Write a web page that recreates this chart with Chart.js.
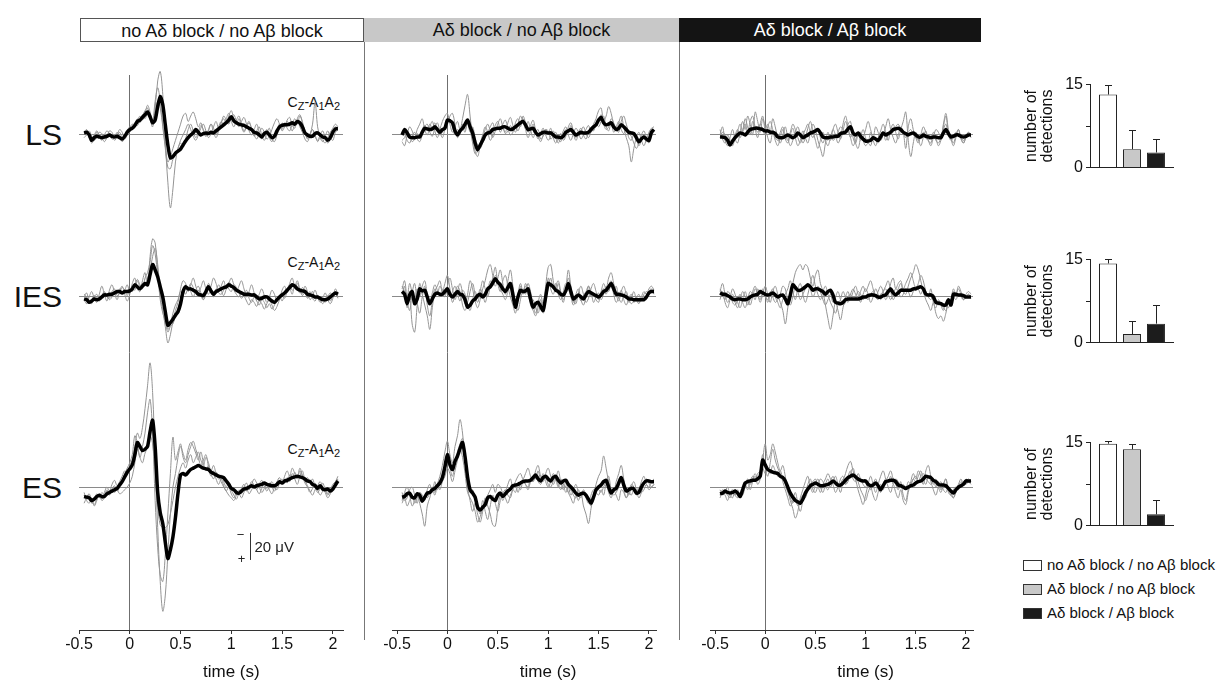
<!DOCTYPE html>
<html>
<head>
<meta charset="utf-8">
<script src="https://cdn.jsdelivr.net/npm/chart.js@4.4.1/dist/chart.umd.min.js"></script>
<style>
  body { margin: 0; background: #fff; font-family: "Liberation Sans", Arial, sans-serif; color: #111; }
  #page { position: relative; width: 1224px; height: 693px; overflow: hidden; }
  canvas { position: absolute; }
  .hdr { position: absolute; top: 18px; height: 24px; line-height: 24px; font-size: 18px; text-align: center; box-sizing: border-box; }
  .sep { position: absolute; top: 42px; width: 1px; height: 598px; background: #777; }
  .row { position: absolute; font-size: 30px; transform: translate(-100%, -50%); }
  .ref { position: absolute; font-size: 14px; transform: translate(-100%, -50%); white-space: nowrap; }
  .ref sub { font-size: 11px; vertical-align: -3px; }
  .leg { position: absolute; left: 1023px; font-size: 15px; white-space: nowrap; }
  .leg span { display: inline-block; width: 19px; height: 11px; border: 1px solid #333; box-sizing: border-box; margin-right: 5px; vertical-align: -1px; }
</style>
</head>
<body>
<div id="page">
  <div class="hdr" style="left:80px;width:284px;border:1px solid #555;background:#fff;">no Aδ block / no Aβ block</div>
  <div class="hdr" style="left:364px;width:315px;background:#c8c8c8;">Aδ block / no Aβ block</div>
  <div class="hdr" style="left:679px;width:302px;background:#141414;color:#fff;">Aδ block / Aβ block</div>
  <div class="sep" style="left:364px;"></div>
  <div class="sep" style="left:679px;"></div>

  <div class="row" style="left:62px;top:135px;">LS</div>
  <div class="row" style="left:62px;top:297px;">IES</div>
  <div class="row" style="left:62px;top:488px;">ES</div>

  <div class="ref" style="left:340px;top:103px;">C<sub>Z</sub>-A<sub>1</sub>A<sub>2</sub></div>
  <div class="ref" style="left:340px;top:263px;">C<sub>Z</sub>-A<sub>1</sub>A<sub>2</sub></div>
  <div class="ref" style="left:340px;top:450px;">C<sub>Z</sub>-A<sub>1</sub>A<sub>2</sub></div>

  <canvas id="colNoBlock" width="294" height="643" style="left:64px;top:50px;"></canvas>
  <canvas id="colAdBlock" width="294" height="643" style="left:377px;top:50px;"></canvas>
  <canvas id="colAdAbBlock" width="293" height="643" style="left:695px;top:50px;"></canvas>

  <canvas id="detLS" width="173" height="108" style="left:1010px;top:72px;"></canvas>
  <canvas id="detIES" width="173" height="108" style="left:1010px;top:247px;"></canvas>
  <canvas id="detES" width="173" height="108" style="left:1010px;top:430px;"></canvas>

  <div class="leg" style="top:556px;"><span style="background:#fff;"></span>no Aδ block / no Aβ block</div>
  <div class="leg" style="top:580px;"><span style="background:#c8c8c8;"></span>Aδ block / no Aβ block</div>
  <div class="leg" style="top:604px;"><span style="background:#1c1c1c;"></span>Aδ block / Aβ block</div>
</div>
<script>
// sample times (s)
const timeS = [-0.45,-0.425,-0.4,-0.375,-0.35,-0.325,-0.3,-0.275,-0.25,-0.225,-0.2,-0.175,-0.15,-0.125,-0.1,-0.075,-0.05,-0.025,0,
  0.025,0.05,0.075,0.1,0.125,0.15,0.175,0.2,0.225,0.25,0.275,0.3,0.325,0.35,0.375,0.4,0.425,0.45,0.475,0.5,
  0.525,0.55,0.575,0.6,0.625,0.65,0.675,0.7,0.725,0.75,0.775,0.8,0.825,0.85,0.875,0.9,0.925,0.95,0.975,1,
  1.025,1.05,1.075,1.1,1.125,1.15,1.175,1.2,1.225,1.25,1.275,1.3,1.325,1.35,1.375,1.4,1.425,1.45,1.475,1.5,
  1.525,1.55,1.575,1.6,1.625,1.65,1.675,1.7,1.725,1.75,1.775,1.8,1.825,1.85,1.875,1.9,1.925,1.95,1.975,2,
  2.025,2.05];
const timeTicks = [-0.5, 0, 0.5, 1, 1.5, 2];
const timeTickLabels = ['-0.5', '0', '0.5', '1', '1.5', '2'];

// amplitudes in µV (negative plotted up)
// --- no Aδ block / no Aβ block ---
const lsNoBlockMean = [-1.5,-2,0,4,2,1,1.5,2,1.5,1,0,1,1.5,1,2,3,1,-2,-4,
  -5,-7,-10,-11,-13,-15,-17,-13.5,-9,-11,-21,-28.5,-22.5,-7.5,7.5,17,16,13.5,12,10.5,
  7.5,4.5,2,0,-1.5,-4,-2,0,-1,-1.5,-1,-2,-1.5,-3,-4.5,-6,-7.5,-9,-11,-13.5,
  -10.5,-9,-8,-7.5,-7,-6,-5,-4,-2,-1.5,0,1.5,-1,-2,0,2,1,-3,-6,-7,
  -7.5,-7.5,-8,-9,-8,-10,-9,-6,-1.5,0,1,1,-1,-1.5,0,1.5,2,4,2,-2,
  -4.5,-4.5];
const lsNoBlockT1 = [0,-3,2,6,3,-2,1,4,0,-3,-1,3,2,-2,1,5,2,-3,-6,
  -4,-8,-12,-9,-14,-18,-20,-12,-6,-20,-40,-47,-30,5,35,54,40,20,10,6,
  8,3,-4,-8,-3,2,-2,-7,-4,1,-3,-8,-5,0,-6,-10,-7,-12,-16,-10,
  -6,-11,-14,-8,-3,-7,-10,-4,1,-3,-6,0,4,-1,-5,3,5,0,-5,-9,
  -6,-11,-13,-7,-5,-12,-15,-9,-2,3,0,-4,1,4,0,-3,2,6,3,-3,
  -6,-5];
const lsNoBlockT2 = [2,0,-3,1,4,2,-2,-1,3,1,-3,-2,2,0,-4,-2,3,0,-5,
  -8,-6,-10,-14,-11,-16,-22,-17,-10,-25,-35,-25,-8,8,20,16,10,4,-2,-8,
  -14,-16,-10,-14,-17,-12,-6,-9,-3,1,-4,-8,-2,2,-3,-9,-12,-8,-14,-18,
  -12,-8,-12,-6,-2,-6,-9,-5,0,3,-1,-5,-2,3,1,-4,-9,-12,-8,-4,
  -9,-5,-3,-8,-12,-8,-14,-10,-2,2,-1,-4,0,5,2,4,6,2,-2,-5,
  -8,-6];
const lsNoBlockT3 = [-2,-4,0,3,0,-3,0,2,5,2,-1,0,4,1,-2,2,0,-4,-2,
  -6,-9,-7,-11,-15,-12,-16,-14,-10,-16,-25,-20,-6,10,24,25,18,15,10,4,
  0,-4,-8,-4,1,4,0,-5,-8,-3,2,-1,-6,-10,-5,-9,-14,-11,-8,-13,
  -15,-10,-6,-10,-13,-8,-3,0,-4,-8,-2,3,0,-4,2,5,1,-4,-8,-3,
  -6,-10,-7,-3,-8,-11,-6,-2,3,5,0,-8,-24,-6,2,5,1,-3,2,4,
  -2,-4];

const iesNoBlockMean = [1.5,2,4,3,1.5,2,1.5,0,-1.5,-1.5,-2,-2,-3,-4,-4,-3,-4,-4,-4.5,
  -6,-9,-7.5,-6,-8,-10,-9,-16.5,-24,-20,-15,-7.5,0,11,21,19,16.5,13.5,11,5,
  -4,-7.5,-6,-6,-5,-4,-2,-1.5,-1,-4,-7.5,-4.5,-2,-4,-5,-6,-7,-7.5,-9,-8,
  -7,-5,-4,-3,-2,-2,-2,-1.5,-1.5,0,1.5,1,0,0,1.5,3,4,2,0,-1.5,
  -3,-5,-7,-9,-8,-6,-5,-4.5,-4,-2,-1.5,-1,0,0,1,2,2,1.5,0,-1.5,
  -3,-2];
const iesNoBlockT1 = [2,5,0,-4,1,4,-2,-8,-2,3,-5,-9,-3,2,-4,-8,-2,3,-2,
  -10,-14,-6,-4,-12,-18,-8,-30,-43,-40,-20,-2,10,22,34,28,18,10,4,-6,
  -12,-10,-4,-9,-14,-8,-3,-7,-12,-6,-2,-8,-14,-10,-4,-8,-12,-6,-10,-14,
  -9,-4,-8,-12,-6,0,-4,-9,-3,2,-2,-6,-1,4,0,-5,-2,3,1,-5,
  -8,-3,-10,-14,-8,-12,-6,-2,-8,-4,2,-1,-5,0,4,1,-3,2,5,1,
  -6,-2];
const iesNoBlockT2 = [0,-3,3,5,0,-2,2,-1,-4,0,1,-4,-6,-1,-3,-7,-5,-1,-6,
  -4,-9,-13,-9,-6,-14,-18,-26,-38,-32,-16,2,12,18,26,22,20,14,8,2,
  -6,-2,-7,-4,0,-5,-8,-3,2,-2,-10,-6,0,-4,-9,-5,-1,-6,-11,-9,
  -5,-2,0,-3,-1,3,6,2,4,7,3,5,9,5,2,6,10,7,2,-1,
  1,-4,-6,-2,-9,-6,-3,-7,-4,0,-4,1,3,-1,2,5,2,-1,3,-1,
  -4,1];
const iesNoBlockT3 = [-2,0,4,2,-1,1,3,0,-3,-1,2,0,-4,-2,-6,-3,-5,-9,-4,
  -7,-5,-12,-8,-10,-8,-14,-20,-30,-36,-24,-6,4,14,24,20,12,6,2,-4,
  -2,-9,-6,-10,-7,-3,-5,-1,2,-4,-8,-3,-1,-6,-3,-2,-5,-9,-6,-4,
  -9,-7,-3,1,-2,-5,1,4,0,3,6,2,4,8,5,9,6,2,-1,3,
  -2,-6,-9,-5,-7,-10,-5,-1,-3,1,-2,-4,1,-1,3,1,4,0,-3,-1,
  -3,0];

const esNoBlockMean = [7,7.5,8,10,9,7,6,7,7,5,4,3,2,1,-1.5,-4,-7.5,-11,-13.5,
  -16.5,-24,-33,-30,-27,-28,-30,-41,-49.5,-30,4,19,27,41,53,46.5,37,22.5,4.5,-9,
  -10,-9,-11,-13,-14,-15,-16,-15,-14,-13.5,-13,-11,-10,-9,-8,-7.5,-7,-4.5,-2,1,
  2,4,4.5,3,1.5,1,0,-1,0,-1,-1.5,-2,-3,-2,-1.5,-1,-1,-2,-4,-3,
  -4.5,-5,-6,-7,-7.5,-8,-7.5,-7,-6,-4.5,-4,-2,-1,1,-1,1.5,2,1.5,3,1.5,
  -1.5,-4.5];
const esNoBlockT1 = [6,10,12,8,14,10,5,9,4,0,3,-2,-5,-1,-4,-8,-12,-9,-16,
  -20,-30,-40,-36,-44,-58,-75,-92,-70,-20,30,70,92,80,50,20,0,-10,-22,-30,
  -25,-20,-28,-33,-30,-25,-20,-26,-18,-12,-16,-10,-6,-11,-8,-4,0,3,6,8,
  10,6,2,5,0,-3,2,-2,-6,-3,0,4,1,-3,2,5,0,-4,-7,-3,
  -8,-12,-8,-14,-10,-6,-12,-8,-3,0,4,1,-3,2,6,3,0,5,2,-2,
  -4,-8];
const esNoBlockT2 = [12,8,5,10,13,9,6,10,8,3,6,2,-1,3,0,-5,-10,-14,-18,
  -24,-38,-32,-22,-30,-40,-55,-65,-40,10,45,65,70,50,20,-10,-37,-20,-26,-32,
  -22,-18,-24,-30,-34,-28,-22,-16,-20,-24,-15,-8,-12,-6,-2,-6,-1,3,0,5,
  8,4,6,1,-2,3,0,-4,-1,2,-2,-5,-1,3,-1,-4,0,2,-3,-6,
  -3,-7,-4,-10,-6,-2,-8,-12,-5,-1,3,6,2,-1,-4,0,4,8,5,1,
  -2,-6];
const esNoBlockT3 = [4,9,7,12,10,5,8,4,6,2,5,1,4,2,5,4,2,0,-3,
  -8,-18,-28,-22,-18,-25,-30,-38,-32,-10,15,28,30,30,28,20,10,0,-8,-14,
  -18,-14,-20,-24,-18,-22,-26,-20,-16,-22,-18,-12,-16,-10,-6,-9,-4,0,-3,2,
  6,9,5,8,4,1,5,2,-1,2,5,1,-2,1,-3,0,3,-1,-5,-2,
  -6,-3,-9,-6,-11,-7,-14,-9,-5,-7,-3,-6,0,4,1,-3,2,6,3,0,
  -3,-5];

// --- Aδ block / no Aβ block ---
const lsAdBlockMean = [0,-4,-1.5,1.5,2,2,1.5,1.5,-2,-5,-4.5,-4,-4.5,-6,-4,-2,-4,-5,-11,
  -10.5,-9,-3,0,-3,-5,-8,-11,-6,-1.5,6,11,7.5,4,0,-1.5,-2,-4,-4.5,-5,
  -5,-6,-6,-5,-4,-4.5,-6,-7.5,-9,-10,-7.5,-4,-4.5,-5,-2,0,-1,-2,-2,-1.5,
  -1.5,0,1.5,1.5,2,1,-2,-3,-4,-2,0,-1,-2,-1.5,-1.5,-2,-4,-6,-7.5,-11,
  -13,-9,-7.5,-8,-9,-6,-4,-5,-7.5,-6,-4,-2,-1.5,-1,2,5,3,1.5,3,4,
  -2,-4];
const lsAdBlockT1 = [5,8,0,-6,-3,2,-4,-8,-12,-4,0,-6,-10,-3,2,-4,-10,-14,-16,
  -8,-2,-6,-10,-4,-12,-22,-30,-14,2,12,16,8,2,-4,-8,-3,2,-3,-8,
  -12,-6,-2,-9,-13,-7,-2,-8,-14,-10,-4,2,-3,-8,-2,3,-1,-5,0,4,
  1,-3,2,6,2,-3,-6,0,4,-1,-5,-2,3,0,-4,-7,-2,-8,-12,-18,
  -20,-10,-14,-21,-16,-8,-3,-9,-14,-6,2,8,20,10,2,-2,4,8,3,-2,
  -5,-6];
const lsAdBlockT2 = [-3,-1,4,6,1,-2,3,5,0,-6,-8,-2,1,-5,-9,-3,2,-4,-8,
  -14,-16,-8,2,-2,-5,-2,-10,-4,6,14,12,6,0,-6,-2,4,0,-7,-10,
  -4,-8,-11,-5,0,-2,-9,-12,-6,-14,-9,-2,-7,-11,-4,1,5,0,-4,-1,
  -5,2,6,2,-1,4,1,-6,-9,-3,2,-2,-5,0,3,-2,-6,-3,-8,-10,
  -15,-8,-4,-6,-12,-9,-4,-2,-10,-14,-8,-2,1,6,10,6,0,-3,2,6,
  1,-3];
const lsAdBlockT3 = [4,2,-3,0,5,3,-1,2,-4,-7,-3,-8,-5,-9,-3,0,-2,-6,-10,
  -12,-6,0,-4,-1,-8,-4,-9,-2,-6,2,8,10,6,0,-2,-6,-9,-3,-6,
  -2,-5,-1,-3,-7,-3,-6,-3,-8,-12,-5,-10,-4,2,-2,-4,3,1,-4,-3,
  3,1,-2,3,5,0,-4,-2,-7,-1,4,0,-3,-6,-1,2,-2,-4,-9,-6,
  -10,-14,-6,-3,-9,-2,-6,-10,-4,-1,-5,2,4,-1,3,8,4,0,5,2,
  -4,-3];

const iesAdBlockMean = [-4,-2,5,-1.5,-4,5,1.5,-6,-4.5,-5,0,5,1.5,-2,-3,-2,-2,-4,-6,
  -2,0,-2,-4,-2,-1.5,2,7.5,6,3,1.5,-1,-2,0,-2,-6,-7.5,-10.5,-13.5,-11,
  -9,-6,-4,-7,-10,-1.5,7.5,0,-5,-4,-4.5,-6,1.5,7.5,5,4,7,10,0,-10,
  -9,-7.5,-5,-4,-2,-1.5,-4.5,-10,-4,1.5,0,-1.5,0,1.5,-1.5,-4,-3,-2,-1,0,
  -1.5,-4,-5,-7.5,-10,-6,-2,-2,-1.5,-1,0,1.5,1.5,2,2,2,2,2,0,-3,
  -4,-4];
const iesAdBlockT1 = [-6,-12,2,10,-3,-10,4,12,0,-8,6,14,3,-6,-2,-8,-4,0,-8,
  -14,-6,2,-4,-10,-3,5,-2,-12,-6,3,8,2,-6,-12,-20,-24,-16,-8,-14,
  -20,-10,-2,-12,-20,-8,4,10,2,-6,-2,-10,-4,6,12,4,-2,6,-8,-22,
  -24,-12,-4,-10,-2,4,-6,-20,-8,2,5,-3,-8,-2,4,1,-6,-10,-4,2,
  -4,-10,-6,-14,-18,-10,-2,3,-4,-8,-2,4,1,-4,2,5,0,-4,-2,-6,
  -8,-5];
const iesAdBlockT2 = [-2,-8,8,-4,20,26,6,-10,-2,6,14,24,8,-4,-8,-12,-4,-10,-16,
  -6,4,-2,-8,-4,6,10,4,-4,-10,-2,4,-4,-12,-6,0,-8,-14,-22,-10,
  -4,-12,-16,-8,0,6,12,2,-8,-2,-10,-4,6,10,14,8,2,12,4,-14,
  -6,-2,-8,-12,-4,2,-4,-14,-6,4,-2,-6,2,6,0,-8,-4,4,0,-3,
  2,-2,-8,-4,-10,-2,4,0,-5,2,6,1,-2,4,1,-2,3,-1,2,-4,
  -6,-2];
const iesAdBlockT3 = [-8,-4,0,-10,-3,2,-6,0,-8,-12,-2,4,-3,-9,-5,0,-6,-2,-4,
  0,-4,-8,-2,3,-5,-2,6,10,2,-4,0,-6,-2,4,-4,-12,-8,-16,-12,
  -6,-2,2,-4,-8,2,8,-2,-10,-4,-8,-2,4,2,8,12,6,10,2,-6,
  -14,-6,-10,-2,2,-4,-10,-6,0,6,2,-2,3,-1,-4,-8,0,-2,2,4,
  -3,-6,-2,-8,-12,-4,-8,0,4,-1,-4,2,5,3,0,4,2,-2,-4,-2,
  -5,-3];

const esAdBlockMean = [7.5,7,5,4.5,7.5,8,5,6,10.5,7.5,4.5,4,2,1,-1,-3,-7,-15,-24,
  -16.5,-13,-19,-23,-28.5,-33,-22.5,-7.5,2,4.5,7.5,15,17,15,13,8,7,9,10,6,
  4.5,7,5,3,1.5,-1,-1.5,-2,-3,-4,-4.5,-4.5,-5,-7,-9,-6,-4.5,-7,-8,-6,
  -4.5,-7,-8,-5,-3,-4.5,-5,-2,0,2,4.5,6,5,4.5,6,9,12,7.5,2,0,
  -1.5,-4,-5,0,4.5,2,1,-3,-7,-1.5,3,2,1,1.5,4.5,4,0,-3,-4.5,-4.5,
  -4,-4];
const esAdBlockT1 = [10,4,0,6,14,10,4,12,20,29,14,8,2,6,-2,-8,-16,-26,-34,
  -24,-18,-30,-38,-50,-40,-20,0,10,18,12,20,26,18,8,14,20,28,29,16,
  6,10,4,-2,-6,0,-4,-8,-10,-6,-10,-14,-8,-4,-12,-16,-8,-4,-10,-14,
  -8,-2,-6,-12,-4,2,-4,4,8,12,6,10,4,14,20,27,16,6,-2,-8,
  -12,-23,-14,-4,2,4,-4,-10,-16,-6,2,6,0,-4,2,8,4,-2,-6,-3,
  0,-2];
const esAdBlockT2 = [4,10,8,2,0,6,12,4,6,10,2,-2,4,-4,2,-2,-6,-12,-20,
  -14,-8,-18,-26,-32,-36,-24,-6,4,2,8,14,20,10,18,24,14,6,12,18,
  10,4,8,12,6,2,-2,4,-2,-6,-2,2,-4,-8,-6,-12,-6,-10,-4,0,
  -4,-10,-6,0,-6,-2,4,0,6,2,-2,4,8,2,6,10,14,8,4,2,
  4,0,-4,-8,2,6,4,0,-6,2,8,4,-2,0,6,2,-4,-8,-2,0,
  -4,-6];
const esAdBlockT3 = [12,8,14,10,6,12,8,4,10,6,8,4,0,4,-2,2,-4,-8,-14,
  -10,-4,-12,-20,-28,-22,-10,4,8,12,18,26,22,16,10,6,2,-2,4,-2,
  0,4,2,6,8,2,4,-2,2,-4,-2,0,-6,-4,-8,-4,-2,-6,-8,-2,
  0,-4,-6,-2,2,-2,0,4,2,6,8,2,6,4,8,12,6,2,4,6,
  2,6,-2,4,8,2,6,10,2,4,8,4,6,2,4,0,4,2,-2,2,
  0,-2];

// --- Aδ block / Aβ block ---
const lsAdAbBlockMean = [1.5,1.5,2,4,7.5,4.5,2,0,-1.5,-1,0,-2,-4,-4.5,-5,-5,-4.5,-4,-3,
  -3,-2,-2,-1,1.5,2,2,1,0,1,2,1,-1.5,0,2,1,0,-1.5,-2,-3,
  -4,-1.5,1.5,2,2,1.5,1.5,1,1,-1,-1.5,-2,-4.5,-6,-1.5,0,-1.5,1,3,4.5,
  4.5,4,2,3,4,1.5,-1.5,0,-1,-2,-4,-4.5,-5,-4,-2,-1,0,-1,-1.5,0,
  1.5,1.5,0,1,1.5,2,1.5,1.5,2,2,-1.5,-4,-1,1.5,1,0,0,1,1.5,1,
  0,0];
const lsAdAbBlockT1 = [0,-6,4,8,2,-4,3,6,-2,-10,-4,-14,-8,0,-17,-10,-2,-12,-6,
  2,6,-2,4,8,2,-4,3,6,0,-5,2,8,4,-3,2,6,-2,-8,-4,
  4,10,16,6,-2,4,-4,-8,-2,3,-3,-10,-4,2,-2,6,10,2,-4,2,
  6,-2,4,8,2,-3,-8,-2,4,-4,-8,-2,3,-4,-10,-17,4,16,6,-2,
  3,8,2,-3,4,6,-2,2,8,4,-6,-14,-2,3,8,2,-4,3,6,2,
  -2,0];
const lsAdAbBlockT2 = [-4,3,6,0,4,8,2,-3,-8,-2,-12,-6,0,-10,-4,2,-8,-14,-4,
  -8,-2,-12,-6,2,6,0,-6,2,8,4,-2,-6,0,6,2,-5,-10,-3,4,
  10,4,-2,4,8,2,-4,0,6,2,-8,-14,-6,2,8,4,-2,4,2,-4,
  -10,-4,2,-6,-2,4,0,-6,-12,-4,2,6,0,-6,-2,10,-6,-12,-4,2,
  6,0,-6,-2,4,8,2,-4,-2,2,-8,-16,-4,2,6,0,-4,2,6,1,
  -2,2];
const lsAdAbBlockT3 = [2,-2,0,4,8,4,0,-4,2,-4,-8,-2,-10,-14,-6,-2,-8,-4,0,
  -6,-10,-4,2,4,-2,-6,0,4,-2,-8,-4,2,6,0,-4,-8,-2,2,-2,
  -4,2,6,2,4,0,4,2,-2,-6,-4,-2,-8,-10,2,6,0,-2,4,8,
  6,8,2,4,6,2,-2,4,0,-4,-2,-6,-8,-4,-2,2,-2,-4,0,2,
  4,2,-2,2,4,2,0,4,6,2,-4,-8,0,4,2,-2,0,2,4,2,
  0,1];

const iesAdAbBlockMean = [-3,-2,-2,-1,0,1.5,2,1.5,1.5,2,2,1.5,0,-1,-1.5,-2,-4,-3,-2,
  -1.5,-2,-3,-1.5,0,-1,-1.5,1.5,5,-1.5,-9,-7,-5,-5,-6,-7.5,-9,-7.5,-5,-6,
  -6,-5,-4,-2,-4,-5,-1.5,4,4.5,5,4,2,1.5,1.5,1.5,1.5,1.5,1,0,0,
  -1,-1.5,-1.5,-1,0,0,-1,-1.5,-4,-6,-3,-1.5,-3,-5,-5,-5,-5,-5,-6,-6,
  -7,-7.5,-6,-2,-1.5,-1.5,0,4,4.5,5,6,6,2,6,-2,-2,-1.5,-1.5,-1,0,
  0,0];
const iesAdAbBlockT1 = [-4,-10,-2,4,0,-6,-2,4,8,2,-4,2,6,0,-6,-2,4,-2,-8,
  -2,4,-4,-8,-2,4,10,20,8,-4,-10,-18,-22,-24,-20,-24,-22,-14,-8,-16,
  -20,-10,-4,6,16,24,14,4,10,17,8,0,-4,2,-4,-8,-2,4,-2,-6,
  -2,4,0,-6,-2,2,-4,-8,-12,-4,2,-2,-6,-10,-4,-2,-8,-14,-18,-24,
  -20,-12,-4,2,6,10,4,12,16,14,18,12,4,2,-4,-2,-6,-2,2,-2,
  -4,-2];
const iesAdAbBlockT2 = [2,-4,4,8,2,-2,4,8,2,-4,0,6,2,-4,-8,-2,2,-4,-2,
  4,-2,-6,0,4,8,2,-2,-6,-12,-4,2,-6,-10,-2,4,-2,-10,-16,-8,
  -2,2,-4,-8,-2,4,8,12,6,2,-4,0,4,-2,-6,-2,2,-4,-8,-4,
  -8,-12,-6,0,-4,-8,-4,2,-2,-10,-14,-6,-10,-12,-6,-10,-14,-18,-12,-6,
  -10,-16,-12,-4,0,-6,4,8,2,6,10,4,8,2,-6,-2,-8,-4,2,0,
  -2,1];
const iesAdAbBlockT3 = [-6,-2,2,-4,-2,4,6,2,-2,4,8,2,-4,-2,2,-6,-2,-6,0,
  2,-4,0,4,2,-2,-8,-6,2,6,0,-8,-4,2,-2,-6,-10,-6,0,-4,
  -8,-4,2,6,2,-2,4,0,-4,2,6,4,0,-2,2,0,-4,-2,2,0,
  2,-2,-4,0,2,-2,-4,-6,-2,2,-2,-6,-4,0,-2,-6,-4,0,-4,-8,
  -6,-2,-6,-4,0,2,-2,2,6,4,8,10,4,6,0,2,-2,0,2,0,
  -2,0];

const esAdAbBlockMean = [5,4.5,3,4,4.5,4,3,4.5,7,2,-3,-4,-4.5,-5,-5,-6,-8,-20,-16.5,
  -13,-12,-11,-10.5,-10,-8,-7,-4.5,0,4.5,7.5,10,11,12,9,4.5,1.5,-1,-2,-3,
  -2,-1,-1,-1.5,-2,-3,-4.5,-3,-1.5,-1.5,-3,-5,-7,-8,-9,-7.5,-6,-5,-4.5,-4.5,
  -2,-1,-1.5,-3,-1,2,-1,-4,-4.5,-5,-5,-4,-1.5,-1,0,1,0,-1,-1.5,-3,
  -4,-4.5,-6,-8,-7.5,-7,-5,-4,-2,-1.5,-1.5,-1,1,3,4.5,2,0,-1,-2,-4.5,
  -4.5,-4.5];
const esAdAbBlockT1 = [8,4,6,10,4,2,6,8,4,6,0,-4,2,-4,-8,-2,-6,-20,-32,
  -20,-24,-32,-26,-18,-12,-16,-8,2,10,16,23,18,8,2,-4,-8,0,4,-2,
  -6,0,4,-2,-6,0,-4,-8,-2,4,-4,-10,-16,-19,-12,-6,2,8,13,6,
  -2,-8,-2,4,-2,-8,-12,-6,0,4,-2,4,8,2,10,13,4,-4,-10,-6,
  -12,-8,-2,-12,-16,-8,-2,-6,0,4,-2,-6,2,6,8,2,-2,-6,-2,-4,
  -6,-4];
const esAdAbBlockT2 = [2,6,4,0,6,8,2,4,8,2,-2,2,-4,-8,-4,-10,-12,-24,-14,
  -8,-18,-28,-20,-14,-10,-4,2,8,14,10,4,12,18,10,4,-2,-6,2,4,
  0,4,-2,-6,-10,-6,-2,4,0,-6,-8,-2,-4,-10,-14,-8,-4,2,6,10,
  4,0,6,10,4,-2,2,-4,-8,-12,-6,-2,2,-4,6,10,2,-2,-6,-4,
  -8,-12,-6,-2,-8,-4,2,6,0,-4,2,4,0,4,8,4,0,-4,-2,-6,
  -4,-2];
const esAdAbBlockT3 = [6,2,4,6,8,4,6,2,6,4,-2,-6,-2,-6,-10,-6,-8,-14,-10,
  -14,-10,-16,-12,-8,-12,-6,-2,4,8,12,8,14,10,6,8,2,-2,-4,-6,
  -2,-6,-4,0,2,-4,-8,-4,0,-2,-6,-2,-8,-12,-6,-4,-10,-6,-2,0,
  -4,2,-2,-6,0,4,-2,-6,-4,-8,-2,-6,-4,0,-2,2,-4,-2,-6,-8,
  -4,-8,-10,-6,-4,-2,-6,0,-4,2,-2,-6,4,6,2,0,2,-2,-4,-2,
  -4,-4];

// number of detections (mean, error) in the order of the three conditions
const detectionTicks = [0, 7.5, 15];
const detectionTickLabels = ['0', '', '15'];
const lsDetections = [13.2, 3.3, 2.7];
const lsDetectionsErr = [1.7, 3.4, 2.5];
const iesDetections = [14.3, 1.5, 3.4];
const iesDetectionsErr = [0.8, 2.4, 3.4];
const esDetections = [14.8, 13.8, 2.0];
const esDetectionsErr = [0.5, 1.0, 2.6];

Chart.defaults.font.family = '"Liberation Sans", Arial, sans-serif';
Chart.defaults.color = '#111';

const rowAxes = {
  ls: { min: -44.4, max: 59.3, weight: 140 },
  ies: { min: -60.7, max: 61.5, weight: 165 },
  es: { min: -79.3, max: 105.9, weight: 250 },
};

function toPoints(values) {
  return values.map((v, i) => ({ x: timeS[i], y: v }));
}

function traceSets(axisId, mean, trials) {
  const sets = trials.map((vals) => ({
    data: toPoints(vals),
    yAxisID: axisId,
    borderColor: '#949494',
    borderWidth: 1,
    tension: 0.35,
    order: 1,
  }));
  sets.push({
    data: toPoints(mean),
    yAxisID: axisId,
    borderColor: '#000',
    borderWidth: 3.5,
    tension: 0.25,
    order: 0,
  });
  return sets;
}

function rowScale(key) {
  const r = rowAxes[key];
  return {
    type: 'linear',
    position: 'left',
    stack: 'rows',
    stackWeight: r.weight,
    min: r.min,
    max: r.max,
    reverse: true,
    afterBuildTicks: (s) => { s.ticks = [{ value: 0 }]; },
    afterFit: (s) => { s.width = 0; },
    ticks: { display: false },
    grid: { drawTicks: false, color: '#8a8a8a', lineWidth: 1 },
    border: { display: false },
  };
}

const timeCaption = {
  id: 'timeCaption',
  afterDraw(chart) {
    const { ctx } = chart;
    const xs = chart.scales.x;
    ctx.save();
    ctx.fillStyle = '#111';
    ctx.font = '17px "Liberation Sans", Arial, sans-serif';
    ctx.textAlign = 'center';
    ctx.textBaseline = 'middle';
    ctx.fillText('time (s)', xs.getPixelForValue(1), xs.bottom - 21);
    ctx.restore();
  },
};

const scaleBar = {
  id: 'scaleBar',
  afterDatasetsDraw(chart, args, opts) {
    if (!opts || opts.at === undefined) return;
    const { ctx } = chart;
    const x = Math.round(chart.scales.x.getPixelForValue(opts.at)) + 0.5;
    const yTop = chart.scales.es.getPixelForValue(opts.from);
    const yBot = chart.scales.es.getPixelForValue(opts.from + opts.size);
    ctx.save();
    ctx.strokeStyle = '#333';
    ctx.lineWidth = 1;
    ctx.beginPath();
    ctx.moveTo(x, yTop);
    ctx.lineTo(x, yBot);
    ctx.stroke();
    ctx.fillStyle = '#222';
    ctx.font = '13px "Liberation Sans", Arial, sans-serif';
    ctx.textAlign = 'center';
    ctx.textBaseline = 'middle';
    ctx.fillText('\u2212', x - 10, yTop + 2);
    ctx.fillText('+', x - 9, yBot - 1);
    ctx.font = '15px "Liberation Sans", Arial, sans-serif';
    ctx.textAlign = 'left';
    ctx.fillText('20 \u03bcV', x + 4, (yTop + yBot) / 2 + 1);
    ctx.restore();
  },
};

function waveColumn(canvasId, xMin, xMax, rows, bar) {
  const datasets = [
    ...traceSets('ls', rows.ls[0], rows.ls[1]),
    ...traceSets('ies', rows.ies[0], rows.ies[1]),
    ...traceSets('es', rows.es[0], rows.es[1]),
  ];
  new Chart(document.getElementById(canvasId), {
    type: 'line',
    data: { datasets },
    options: {
      responsive: false,
      animation: false,
      events: [],
      layout: { padding: { top: 25, left: 15, right: 15, bottom: 0 } },
      elements: { point: { radius: 0 }, line: { fill: false } },
      datasets: { line: { clip: false } },
      scales: {
        x: {
          type: 'linear',
          position: 'bottom',
          min: xMin,
          max: xMax,
          afterBuildTicks: (s) => { s.ticks = timeTicks.map((v) => ({ value: v })); },
          afterFit: (s) => { s.height = 63; },
          ticks: {
            callback: (v, i) => timeTickLabels[i],
            font: { size: 16 },
            color: '#111',
            padding: 1,
            maxRotation: 0,
            autoSkip: false,
          },
          grid: {
            color: (c) => (c.tick && c.tick.value === 0 ? '#6f6f6f' : 'rgba(0,0,0,0)'),
            tickColor: '#333',
            tickLength: 4,
            lineWidth: 1,
          },
          border: { color: '#333', width: 1 },
        },
        // left axes in a stack are laid out bottom-up, so ES comes first
        es: rowScale('es'),
        ies: rowScale('ies'),
        ls: rowScale('ls'),
      },
      plugins: {
        legend: { display: false },
        tooltip: { enabled: false },
        scaleBar: bar || {},
      },
    },
    plugins: [timeCaption, scaleBar],
  });
}

waveColumn('colNoBlock', -0.5, 2.1, {
  ls: [lsNoBlockMean, [lsNoBlockT1, lsNoBlockT2, lsNoBlockT3]],
  ies: [iesNoBlockMean, [iesNoBlockT1, iesNoBlockT2, iesNoBlockT3]],
  es: [esNoBlockMean, [esNoBlockT1, esNoBlockT2, esNoBlockT3]],
}, { at: 1.18, from: 34, size: 20 });

waveColumn('colAdBlock', -0.55, 2.07, {
  ls: [lsAdBlockMean, [lsAdBlockT1, lsAdBlockT2, lsAdBlockT3]],
  ies: [iesAdBlockMean, [iesAdBlockT1, iesAdBlockT2, iesAdBlockT3]],
  es: [esAdBlockMean, [esAdBlockT1, esAdBlockT2, esAdBlockT3]],
});

waveColumn('colAdAbBlock', -0.55, 2.07, {
  ls: [lsAdAbBlockMean, [lsAdAbBlockT1, lsAdAbBlockT2, lsAdAbBlockT3]],
  ies: [iesAdAbBlockMean, [iesAdAbBlockT1, iesAdAbBlockT2, iesAdAbBlockT3]],
  es: [esAdAbBlockMean, [esAdAbBlockT1, esAdAbBlockT2, esAdAbBlockT3]],
});

const errorBars = {
  id: 'errorBars',
  afterDatasetsDraw(chart) {
    const { ctx } = chart;
    const ys = chart.scales.y;
    const ds = chart.data.datasets[0];
    ctx.save();
    ctx.strokeStyle = '#222';
    ctx.lineWidth = 1;
    chart.getDatasetMeta(0).data.forEach((bar, i) => {
      const x = Math.round(bar.x) + 0.5;
      const top = Math.round(ys.getPixelForValue(ds.data[i].y + ds.errors[i])) + 0.5;
      ctx.beginPath();
      ctx.moveTo(x, bar.y);
      ctx.lineTo(x, top);
      ctx.moveTo(x - 3.5, top);
      ctx.lineTo(x + 3.5, top);
      ctx.stroke();
    });
    ctx.restore();
  },
};

function detectionChart(canvasId, values, errors) {
  new Chart(document.getElementById(canvasId), {
    type: 'bar',
    data: {
      datasets: [{
        data: values.map((v, i) => ({ x: i + 1, y: v })),
        errors,
        backgroundColor: ['#ffffff', '#c8c8c8', '#1c1c1c'],
        borderColor: '#222',
        borderWidth: 1,
        barPercentage: 0.75,
        categoryPercentage: 1,
      }],
    },
    options: {
      responsive: false,
      animation: false,
      events: [],
      layout: { padding: { top: 10, right: 10, bottom: 10, left: 0 } },
      scales: {
        x: {
          type: 'linear',
          min: 0.25,
          max: 3.71,
          offset: false,
          afterFit: (s) => { s.height = 0; },
          ticks: { display: false },
          grid: { display: false },
          border: { color: '#222' },
        },
        y: {
          min: 0,
          max: 15,
          afterBuildTicks: (s) => { s.ticks = detectionTicks.map((v) => ({ value: v })); },
          afterFit: (s) => { s.width = 80; },
          ticks: { callback: (v, i) => detectionTickLabels[i], font: { size: 16 }, color: '#111', padding: 3 },
          grid: { drawOnChartArea: false, tickLength: 4, tickColor: '#222' },
          border: { color: '#222' },
          title: {
            display: true,
            text: ['number of', 'detections'],
            font: { size: 16, lineHeight: 1 },
            color: '#111',
            padding: { top: 14, bottom: 0 },
          },
        },
      },
      plugins: { legend: { display: false }, tooltip: { enabled: false } },
    },
    plugins: [errorBars],
  });
}

detectionChart('detLS', lsDetections, lsDetectionsErr);
detectionChart('detIES', iesDetections, iesDetectionsErr);
detectionChart('detES', esDetections, esDetectionsErr);
</script>
</body>
</html>
